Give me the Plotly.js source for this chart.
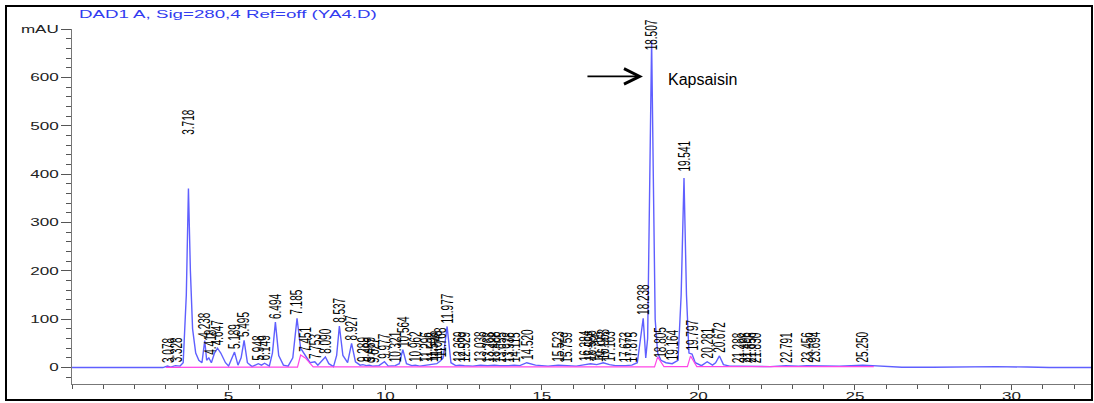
<!DOCTYPE html>
<html>
<head>
<meta charset="utf-8">
<script src="https://cdn.plot.ly/plotly-3.0.1.min.js"></script>
<style>
  html, body { margin: 0; padding: 0; background: #fff; }
  #chart { width: 1094px; height: 403px; }
</style>
</head>
<body>
<div id="chart"></div>
<script>
// ---- Data (time in min, signal in mAU) ----
var signalTime = [
  0, 2.9, 3.05, 3.15, 3.3, 3.45, 3.55, 3.65, 3.718, 3.78, 3.85, 3.95, 4.05, 4.15, 4.238, 4.3,
  4.37, 4.45, 4.55, 4.647, 4.75, 4.9, 5.0, 5.189, 5.3, 5.4, 5.495, 5.6, 5.75, 5.948, 6.05,
  6.149, 6.3, 6.4, 6.494, 6.6, 6.75, 6.9, 7.05, 7.185, 7.3, 7.451, 7.6, 7.753, 7.85, 7.95,
  8.09, 8.2, 8.35, 8.45, 8.537, 8.65, 8.8, 8.927, 9.05, 9.2, 9.289, 9.4, 9.489, 9.6, 9.7,
  9.8, 9.977, 10.1, 10.321, 10.45, 10.564, 10.68, 10.85, 10.962, 11.1, 11.296, 11.5, 11.648,
  11.768, 11.85, 11.977, 12.1, 12.25, 12.369, 12.529, 12.8, 13.038, 13.268, 13.488, 13.655,
  13.938, 14.115, 14.3, 14.52, 14.8, 15.2, 15.523, 15.759, 16.1, 16.384, 16.556, 16.755,
  16.963, 17.163, 17.353, 17.673, 17.875, 18.05, 18.15, 18.238, 18.32, 18.38, 18.45, 18.507,
  18.56, 18.62, 18.7, 18.805, 18.964, 19.164, 19.35, 19.45, 19.541, 19.62, 19.7, 19.797,
  19.9, 20.1, 20.281, 20.45, 20.55, 20.672, 20.8, 21.0, 21.288, 21.496, 21.656, 21.83, 22.3,
  22.791, 23.2, 23.456, 23.694, 24.5, 25.25, 25.8, 26.5, 27.5, 28.5, 29.5, 30.5, 31.2, 32.6
];
var signalValue = [
  0, 0, 3, 1, 4, 3, 10, 150, 370, 200, 80, 30, 15, 10, 56, 15,
  20, 10, 30, 40, 30, 10, 3, 32, 5, 20, 56, 10, 2, 8, 5,
  9, 3, 30, 94, 25, 5, 3, 20, 102, 40, 26, 10, 12, 5, 12,
  22, 8, 2, 25, 86, 25, 10, 50, 12, 5, 6, 4, 5, 3, 3,
  4, 12, 3, 4, 8, 37, 8, 4, 5, 3, 5, 6, 8,
  14, 20, 85, 10, 4, 5, 4, 3, 5, 4, 5, 4,
  4, 5, 4, 10, 5, 3, 5, 4, 3, 6, 8, 6,
  10, 6, 4, 4, 5, 10, 60, 102, 20, 60, 400, 676,
  400, 100, 30, 15, 10, 8, 15, 150, 392, 150, 30, 28,
  10, 4, 12, 5, 10, 24, 6, 3, 3, 3, 3, 3, 2,
  4, 3, 4, 4, 3, 5, 3, 0.5, 0.5, 1.5, 2, 1, 0, 0
];

// integration baseline (magenta)
var baseTime  = [3.0, 7.2, 7.3, 7.45, 7.7, 18.6, 18.7, 18.9, 19.65, 19.75, 19.95, 25.6];
var baseValue = [0.5, 1.0, 26, 20, 1.5, 1.5, 22, 2, 2, 24, 2, 2];

// peak retention-time labels and the height (mAU) at which each label starts
var peakLabels = [
  "3.078", "3.328", "3.718", "4.238", "4.418", "4.647", "5.189", "5.495", "5.948", "6.149",
  "6.494", "7.185", "7.451", "7.753", "8.090", "8.537", "8.927", "9.289", "9.489", "9.627",
  "9.977", "10.321", "10.564", "10.962", "11.296", "11.508", "11.648", "11.768", "11.977",
  "12.369", "12.529", "13.038", "13.268", "13.488", "13.655", "13.938", "14.115", "14.520",
  "15.523", "15.759", "16.384", "16.556", "16.755", "16.963", "17.163", "17.673", "17.875",
  "18.238", "18.507", "18.805", "19.164", "19.541", "19.797", "20.281", "20.672",
  "21.288", "21.496", "21.656", "21.830", "22.791", "23.456", "23.694", "25.250"
];
var peakHeights = [
  3, 4, 475, 56, 20, 40, 32, 56, 8, 9,
  94, 102, 26, 12, 22, 86, 50, 6, 5, 3,
  12, 4, 37, 5, 5, 6, 8, 14, 85,
  5, 4, 5, 4, 5, 4, 4, 5, 10,
  5, 4, 6, 8, 6, 10, 6, 4, 5,
  102, 650, 15, 8, 398, 28, 12, 24,
  3, 3, 3, 3, 4, 4, 4, 5
];

var titleText = "DAD1 A, Sig=280,4 Ref=off (YA4.D)";
var compoundName = "Kapsaisin";
var yTickVals = [0, 100, 200, 300, 400, 500, 600, 700];
var yTickText = ["0", "100", "200", "300", "400", "500", "600", "mAU"];
var xTickVals = [5, 10, 15, 20, 25, 30];

// ---- Figure ----
var FONT = "Liberation Sans, Arial, sans-serif";

var traces = [
  {
    x: signalTime, y: signalValue, type: "scatter", mode: "lines",
    line: { color: "rgb(95,95,255)", width: 1.4 }, hoverinfo: "skip"
  },
  {
    x: baseTime, y: baseValue, type: "scatter", mode: "lines",
    line: { color: "rgb(255,70,230)", width: 1.2 }, hoverinfo: "skip"
  }
];

var annotations = peakLabels.map(function (lab, i) {
  return {
    x: Number(lab), y: peakHeights[i], xref: "x", yref: "y",
    text: lab, showarrow: false, textangle: -90,
    xanchor: "center", yanchor: "bottom", yshift: 1,
    font: { family: FONT, size: 10, color: "#000" }
  };
});

// arrow pointing at the main peak
annotations.push({
  x: 18.23, y: 602, xref: "x", yref: "y", text: "", showarrow: true,
  ax: -57, ay: 0, axref: "pixel", ayref: "pixel",
  arrowhead: 5, arrowsize: 1.7, arrowwidth: 1.8, arrowcolor: "#000", standoff: 0
});
annotations.push({
  x: 18.96, y: 596, xref: "x", yref: "y", text: compoundName, showarrow: false,
  xanchor: "left", yanchor: "middle",
  font: { family: FONT, size: 16, color: "#000" }
});

var layout = {
  width: 1094, height: 403,
  margin: { l: 72, r: 1, t: 29, b: 19, pad: 0 },
  paper_bgcolor: "#fff", plot_bgcolor: "#fff",
  showlegend: false,
  title: {
    text: titleText, xref: "container", yref: "container",
    x: 79 / 1094, xanchor: "left", y: 1 - 14 / 403, yanchor: "middle",
    font: { family: FONT, size: 11, color: "rgb(50,60,240)" }
  },
  xaxis: {
    range: [0, 32.6], showgrid: false, zeroline: false,
    showline: true, linecolor: "#777", linewidth: 1,
    tickvals: xTickVals, ticks: "outside", ticklen: 5, tickcolor: "#555",
    ticklabelstandoff: -3,
    minor: { dtick: 1, ticks: "outside", ticklen: 4, tickcolor: "#555" },
    tickfont: { family: FONT, size: 11, color: "#222" }
  },
  yaxis: {
    range: [-34, 700], showgrid: false, zeroline: false,
    showline: true, linecolor: "#777", linewidth: 1,
    tickvals: yTickVals, ticktext: yTickText,
    ticks: "outside", ticklen: 10, tickcolor: "#555",
    minor: { dtick: 20, ticks: "outside", ticklen: 5, tickcolor: "#555" },
    tickfont: { family: FONT, size: 11, color: "#222" }
  },
  annotations: annotations,
  shapes: [
    {
      type: "rect", xref: "paper", yref: "paper",
      x0: (6 - 72) / 1021, x1: (1092 - 72) / 1021,
      y0: (384 - 400) / 355, y1: (384 - 6) / 355,
      line: { color: "#000", width: 2 }, fillcolor: "rgba(0,0,0,0)"
    }
  ]
};

function stretchBy(nodes, factor) {
  Array.prototype.forEach.call(nodes, function (n) {
    try {
      if (n.getAttribute("data-w")) return;
      var L = n.getComputedTextLength();
      if (L > 0) {
        n.setAttribute("data-w", "1");
        n.setAttribute("textLength", (L * factor).toFixed(1));
        n.setAttribute("lengthAdjust", "spacingAndGlyphs");
      }
    } catch (e) {}
  });
}
// widen a text element horizontally (about its left edge) to a target width
function scaleToWidth(n, width) {
  try {
    if (n.getAttribute("data-sx")) return;
    var b = n.getBBox();
    if (!(b.width > 0)) return;
    var f = width / b.width;
    var prev = n.getAttribute("transform") || "";
    n.setAttribute("data-sx", "1");
    n.setAttribute("transform", prev + " translate(" + b.x + ",0) scale(" + f.toFixed(4) + ",1) translate(" + (-b.x) + ",0)");
  } catch (e) {}
}
function thickenLabels(gd) {
  var list = gd.querySelectorAll(".annotation-text");
  Array.prototype.forEach.call(list, function (t) {
    if (t.getAttribute("data-th")) return;
    if (!/^\d+\.\d+$/.test(t.textContent)) return;
    try {
      var b = t.getBBox();
      var cy = b.y + b.height / 2;
      var prev = t.getAttribute("transform") || "";
      t.setAttribute("data-th", "1");
      t.setAttribute("transform", prev + " translate(0," + cy + ") scale(1,1.6) translate(0," + (-cy) + ")");
    } catch (e) {}
  });
}
function finish(gd) {
  var titles = gd.querySelectorAll(".g-gtitle text");
  Array.prototype.forEach.call(titles, function (t) { scaleToWidth(t, 298); });
  stretchBy(gd.querySelectorAll(".xtick text, .ytick text"), 1.55);
  thickenLabels(gd);
}

Plotly.newPlot("chart", traces, layout, { staticPlot: true }).then(function (gd) {
  finish(gd);
  setTimeout(function () { finish(gd); }, 30);
  setTimeout(function () { finish(gd); }, 200);
});
</script>
</body>
</html>
